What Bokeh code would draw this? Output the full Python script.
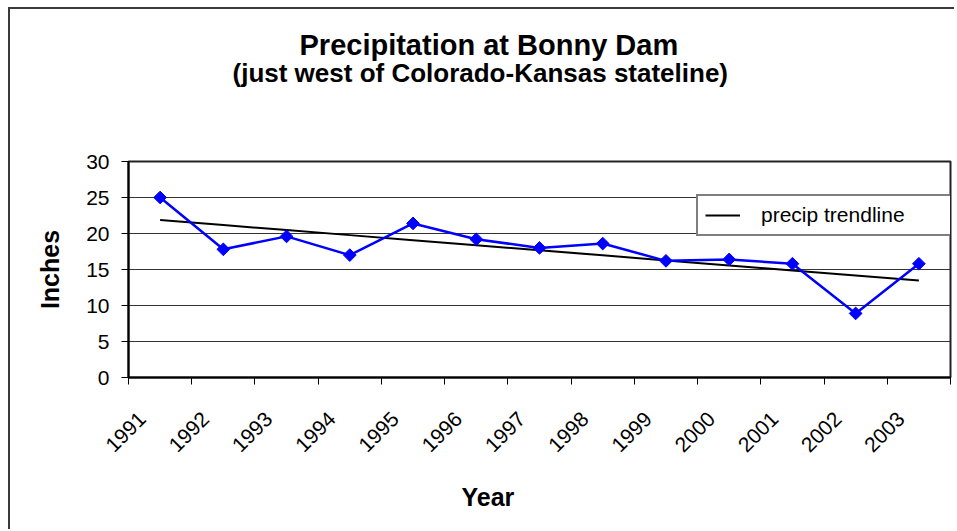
import numpy as np
from bokeh.plotting import figure
from bokeh.models import Range1d, FixedTicker, LinearAxis, Grid, Title
from bokeh.embed import file_html
from bokeh.resources import INLINE

# ---- data ----
years = ["1991", "1992", "1993", "1994", "1995", "1996", "1997",
         "1998", "1999", "2000", "2001", "2002", "2003"]
precip = [25.0, 17.8, 19.6, 17.0, 21.4, 19.2, 18.0,
          18.6, 16.2, 16.4, 15.8, 8.9, 15.8]
y_ticks = [0, 5, 10, 15, 20, 25, 30]

title_text = "Precipitation at Bonny Dam"
subtitle_text = "(just west of Colorado-Kansas stateline)"
x_label = "Year"
y_label = "Inches"
trend_label = "precip trendline"

FONT = "Liberation Sans"

n = len(years)
idx = np.arange(n)
xs = idx + 0.5                 # category centres
label_pos = idx + 0.22         # where the rotated year labels are anchored
slope, intercept = np.polyfit(idx, precip, 1)
trend = slope * idx + intercept

W, H = 946, 522
p = figure(width=W, height=H, output_backend="svg", toolbar_location=None,
           x_range=Range1d(0, n), y_range=Range1d(0, 30),
           min_border_left=118, min_border_right=6,
           min_border_top=152, min_border_bottom=154,
           x_axis_type=None, y_axis_type=None)
p.title.visible = False
p.background_fill_color = "white"
p.border_fill_color = "white"
p.outline_line_color = "#222222"
p.outline_line_width = 2
p.styles = {"margin-left": "8px", "margin-top": "7px",
            "border-top": "2px solid #3a3a3a", "border-left": "2px solid #3a3a3a"}

# titles (a blank spacer keeps the two title lines high above the frame)
spacer = Title(text=" ", standoff=63, text_font=FONT, text_font_size="10px")
sub = Title(text=subtitle_text, align="left", offset=104, standoff=-4,
            text_font=FONT, text_font_size="26px", text_font_style="bold", text_color="black")
main = Title(text=title_text, align="left", offset=171, standoff=-7,
             text_font=FONT, text_font_size="29px", text_font_style="bold", text_color="black")
p.add_layout(spacer, "above")
p.add_layout(sub, "above")
p.add_layout(main, "above")

# y axis
yax = LinearAxis(ticker=FixedTicker(ticks=y_ticks))
yax.axis_line_width = 2
yax.axis_line_color = "black"
yax.major_tick_out = 7
yax.major_tick_in = 0
yax.major_tick_line_color = "black"
yax.minor_tick_line_color = None
yax.major_label_text_font = FONT
yax.major_label_text_font_size = "21px"
yax.major_label_text_color = "black"
yax.major_label_standoff = 12
yax.axis_label = y_label
yax.axis_label_text_font = FONT
yax.axis_label_text_font_size = "25px"
yax.axis_label_text_font_style = "bold"
yax.axis_label_text_color = "black"
yax.axis_label_standoff = 19
p.add_layout(yax, "left")

# x axis: labels near category centres, tick marks between categories
xax = LinearAxis(ticker=FixedTicker(ticks=list(label_pos), minor_ticks=list(range(n + 1))))
xax.major_label_overrides = {float(x): y for x, y in zip(label_pos, years)}
xax.axis_line_width = 2
xax.axis_line_color = "black"
xax.major_tick_line_color = None
xax.major_tick_out = 7
xax.major_tick_in = 0
xax.minor_tick_line_color = "black"
xax.minor_tick_out = 7
xax.minor_tick_in = 0
xax.major_label_orientation = np.pi / 4
xax.major_label_text_font = FONT
xax.major_label_text_font_size = "21px"
xax.major_label_text_color = "black"
xax.major_label_standoff = 31
p.add_layout(xax, "below")

# x axis title (a below-title so it can sit left of the frame centre)
xt = Title(text=x_label, align="left", offset=333, standoff=38,
           text_font=FONT, text_font_size="25px", text_font_style="bold", text_color="black")
p.add_layout(xt, "below")

# grid
p.add_layout(Grid(dimension=1, ticker=yax.ticker, grid_line_color="#333333", grid_line_width=1))

# trendline & series
p.line(xs, trend, line_color="black", line_width=2, legend_label=trend_label)
p.line(xs, precip, line_color="#0000FF", line_width=2.5)
p.scatter(xs, precip, marker="square", size=9, angle=np.pi / 4,
          fill_color="#0000FF", line_color="#0000FF")

# legend
lg = p.legend[0]
lg.location = (568, 141)
lg.border_line_color = "black"
lg.border_line_width = 2
lg.background_fill_color = "white"
lg.background_fill_alpha = 1
lg.padding = 7
lg.margin = 0
lg.spacing = 0
lg.glyph_width = 35
lg.glyph_height = 20
lg.label_height = 20
lg.label_width = 184
lg.label_standoff = 21
lg.label_text_font = FONT
lg.label_text_font_size = "21px"
lg.label_text_color = "black"

open("out.html", "w").write(file_html(p, INLINE))
